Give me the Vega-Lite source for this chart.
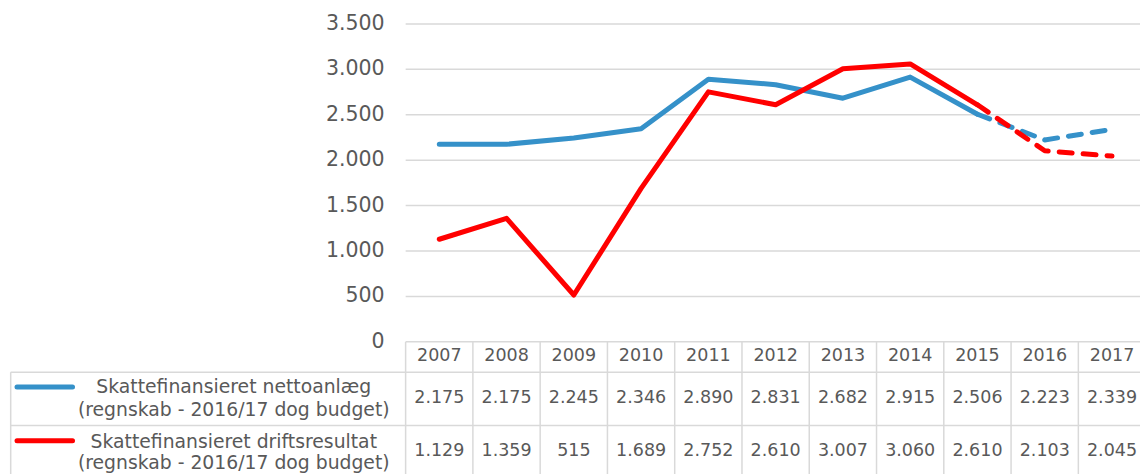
{
  "$schema": "https://vega.github.io/schema/vega-lite/v6.json",
  "width": 1141,
  "height": 475,
  "autosize": {"type": "fit", "contains": "padding"},
  "padding": 0,
  "background": "#ffffff",
  "config": {
    "view": {"stroke": null},
    "locale": {"number": {"decimal": ",", "thousands": ".", "grouping": [3], "currency": ["", " kr."]}},
    "text": {"font": "DejaVu Sans", "color": "#595959"}
  },
  "datasets": {
    "values": [
      {"year": 2007, "serie": "Skattefinansieret nettoanlæg", "value": 2175},
      {"year": 2008, "serie": "Skattefinansieret nettoanlæg", "value": 2175},
      {"year": 2009, "serie": "Skattefinansieret nettoanlæg", "value": 2245},
      {"year": 2010, "serie": "Skattefinansieret nettoanlæg", "value": 2346},
      {"year": 2011, "serie": "Skattefinansieret nettoanlæg", "value": 2890},
      {"year": 2012, "serie": "Skattefinansieret nettoanlæg", "value": 2831},
      {"year": 2013, "serie": "Skattefinansieret nettoanlæg", "value": 2682},
      {"year": 2014, "serie": "Skattefinansieret nettoanlæg", "value": 2915},
      {"year": 2015, "serie": "Skattefinansieret nettoanlæg", "value": 2506},
      {"year": 2016, "serie": "Skattefinansieret nettoanlæg", "value": 2223},
      {"year": 2017, "serie": "Skattefinansieret nettoanlæg", "value": 2339},
      {"year": 2007, "serie": "Skattefinansieret driftsresultat", "value": 1129},
      {"year": 2008, "serie": "Skattefinansieret driftsresultat", "value": 1359},
      {"year": 2009, "serie": "Skattefinansieret driftsresultat", "value": 515},
      {"year": 2010, "serie": "Skattefinansieret driftsresultat", "value": 1689},
      {"year": 2011, "serie": "Skattefinansieret driftsresultat", "value": 2752},
      {"year": 2012, "serie": "Skattefinansieret driftsresultat", "value": 2610},
      {"year": 2013, "serie": "Skattefinansieret driftsresultat", "value": 3007},
      {"year": 2014, "serie": "Skattefinansieret driftsresultat", "value": 3060},
      {"year": 2015, "serie": "Skattefinansieret driftsresultat", "value": 2610},
      {"year": 2016, "serie": "Skattefinansieret driftsresultat", "value": 2103},
      {"year": 2017, "serie": "Skattefinansieret driftsresultat", "value": 2045}
    ],
    "ticks": [
      {"v": 0}, {"v": 500}, {"v": 1000}, {"v": 1500}, {"v": 2000}, {"v": 2500}, {"v": 3000}, {"v": 3500}
    ],
    "one": [{}]
  },
  "layer": [
    {
      "data": {"name": "ticks"},
      "transform": [{"filter": "datum.v > 0"}],
      "mark": {"type": "rule", "color": "#d9d9d9", "strokeWidth": 1.5},
      "encoding": {
        "y": {"field": "v", "type": "quantitative", "scale": {"domain": [-1456, 3763.7], "nice": false, "zero": false}, "axis": null},
        "x": {"datum": 2006.5, "type": "quantitative", "scale": {"domain": [2000.47, 2017.416], "nice": false, "zero": false}, "axis": null},
        "x2": {"datum": 2017.416}
      }
    },
    {
      "data": {"name": "ticks"},
      "mark": {"type": "text", "align": "right", "baseline": "middle", "fontSize": 20.5},
      "encoding": {
        "y": {"field": "v", "type": "quantitative"},
        "x": {"datum": 2006.188, "type": "quantitative"},
        "text": {"field": "v", "type": "quantitative", "format": ",d"}
      }
    },
    {
      "data": {"name": "one"},
      "mark": {"type": "rule", "color": "#d9d9d9", "strokeWidth": 1.5},
      "encoding": {"y": {"datum": 0, "type": "quantitative"}, "x": {"datum": 2006.5, "type": "quantitative"}, "x2": {"datum": 2017.416}}
    },
    {
      "data": {"name": "one"},
      "mark": {"type": "rule", "color": "#d9d9d9", "strokeWidth": 1.5},
      "encoding": {"y": {"datum": -335, "type": "quantitative"}, "x": {"datum": 2000.629, "type": "quantitative"}, "x2": {"datum": 2017.416}}
    },
    {
      "data": {"name": "one"},
      "mark": {"type": "rule", "color": "#d9d9d9", "strokeWidth": 1.5},
      "encoding": {"y": {"datum": -923, "type": "quantitative"}, "x": {"datum": 2000.629, "type": "quantitative"}, "x2": {"datum": 2017.416}}
    },
    {
      "data": {"name": "one"},
      "mark": {"type": "rule", "color": "#d9d9d9", "strokeWidth": 1.5},
      "encoding": {"x": {"datum": 2000.629, "type": "quantitative"}, "y": {"datum": -335, "type": "quantitative"}, "y2": {"datum": -1456}}
    },
    {
      "data": {"name": "values"},
      "transform": [{"filter": "datum.serie == 'Skattefinansieret nettoanlæg'"}],
      "mark": {"type": "rule", "color": "#d9d9d9", "strokeWidth": 1.5, "xOffset": -33.67},
      "encoding": {"x": {"field": "year", "type": "quantitative"}, "y": {"datum": 0, "type": "quantitative"}, "y2": {"datum": -1456}}
    },
    {
      "data": {"name": "values"},
      "transform": [{"filter": "datum.serie == 'Skattefinansieret nettoanlæg'"}],
      "mark": {"type": "text", "align": "center", "baseline": "middle", "fontSize": 17.5},
      "encoding": {"x": {"field": "year", "type": "quantitative"}, "y": {"datum": -159, "type": "quantitative"}, "text": {"field": "year", "type": "quantitative", "format": "d"}}
    },
    {
      "data": {"name": "values"},
      "transform": [{"filter": "datum.serie == 'Skattefinansieret nettoanlæg'"}],
      "mark": {"type": "text", "align": "center", "baseline": "middle", "fontSize": 17.5},
      "encoding": {"x": {"field": "year", "type": "quantitative"}, "y": {"datum": -621, "type": "quantitative"}, "text": {"field": "value", "type": "quantitative", "format": ",d"}}
    },
    {
      "data": {"name": "values"},
      "transform": [{"filter": "datum.serie == 'Skattefinansieret driftsresultat'"}],
      "mark": {"type": "text", "align": "center", "baseline": "middle", "fontSize": 17.5},
      "encoding": {"x": {"field": "year", "type": "quantitative"}, "y": {"datum": -1203, "type": "quantitative"}, "text": {"field": "value", "type": "quantitative", "format": ",d"}}
    },
    {
      "data": {"name": "values"},
      "transform": [{"filter": "datum.year <= 2015"}],
      "mark": {"type": "line", "strokeWidth": 5, "strokeCap": "round", "strokeJoin": "round"},
      "encoding": {
        "x": {"field": "year", "type": "quantitative"},
        "y": {"field": "value", "type": "quantitative"},
        "color": {"field": "serie", "type": "nominal", "scale": {"domain": ["Skattefinansieret nettoanlæg", "Skattefinansieret driftsresultat"], "range": ["#3591c9", "#ff0000"]}, "legend": null}
      }
    },
    {
      "data": {"name": "values"},
      "transform": [{"filter": "datum.year >= 2015"}],
      "mark": {"type": "line", "strokeWidth": 5, "strokeCap": "round", "strokeJoin": "round", "strokeDash": [13, 11]},
      "encoding": {
        "x": {"field": "year", "type": "quantitative"},
        "y": {"field": "value", "type": "quantitative"},
        "color": {"field": "serie", "type": "nominal", "legend": null}
      }
    },
    {
      "data": {"name": "one"},
      "mark": {"type": "rule", "strokeWidth": 5, "strokeCap": "round", "color": "#3591c9"},
      "encoding": {"x": {"datum": 2000.723, "type": "quantitative"}, "x2": {"datum": 2001.548}, "y": {"datum": -497, "type": "quantitative"}}
    },
    {
      "data": {"name": "one"},
      "mark": {"type": "rule", "strokeWidth": 5, "strokeCap": "round", "color": "#ff0000"},
      "encoding": {"x": {"datum": 2000.723, "type": "quantitative"}, "x2": {"datum": 2001.548}, "y": {"datum": -1090, "type": "quantitative"}}
    },
    {
      "data": {"name": "one"},
      "mark": {"type": "text", "align": "center", "baseline": "middle", "fontSize": 18.8, "text": "Skattefinansieret nettoanlæg"},
      "encoding": {"x": {"datum": 2003.945, "type": "quantitative"}, "y": {"datum": -500, "type": "quantitative"}}
    },
    {
      "data": {"name": "one"},
      "mark": {"type": "text", "align": "center", "baseline": "middle", "fontSize": 18.8, "text": "(regnskab - 2016/17 dog budget)"},
      "encoding": {"x": {"datum": 2003.945, "type": "quantitative"}, "y": {"datum": -750, "type": "quantitative"}}
    },
    {
      "data": {"name": "one"},
      "mark": {"type": "text", "align": "center", "baseline": "middle", "fontSize": 18.8, "text": "Skattefinansieret driftsresultat"},
      "encoding": {"x": {"datum": 2003.945, "type": "quantitative"}, "y": {"datum": -1099, "type": "quantitative"}}
    },
    {
      "data": {"name": "one"},
      "mark": {"type": "text", "align": "center", "baseline": "middle", "fontSize": 18.8, "text": "(regnskab - 2016/17 dog budget)"},
      "encoding": {"x": {"datum": 2003.945, "type": "quantitative"}, "y": {"datum": -1335, "type": "quantitative"}}
    }
  ]
}
